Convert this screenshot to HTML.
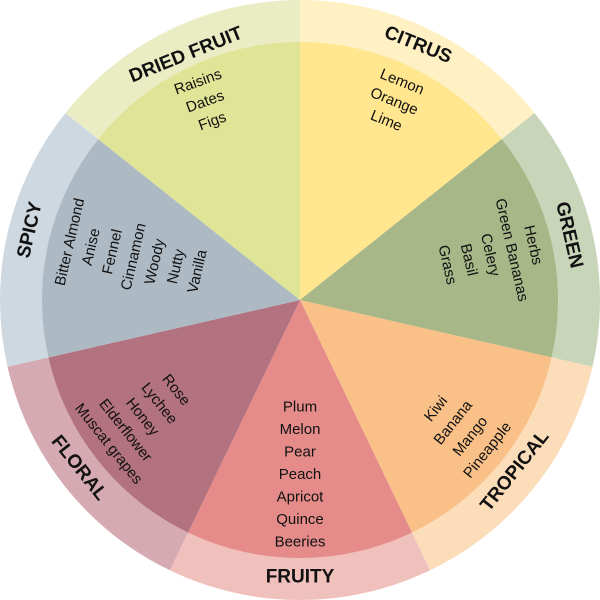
<!DOCTYPE html>
<html><head><meta charset="utf-8"><style>
html,body{margin:0;padding:0;background:#fff;width:600px;height:600px;overflow:hidden;}
svg{display:block;overflow:hidden;position:absolute;left:0;top:0;}
text{font-family:"Liberation Sans",sans-serif;fill:#111;}
.i{font-size:15px;text-anchor:middle;dominant-baseline:central;}
.t{font-size:19px;font-weight:bold;text-anchor:middle;dominant-baseline:central;}
</style></head><body>
<svg width="600" height="600" viewBox="0 0 600 600" xmlns="http://www.w3.org/2000/svg">
<defs>
<path id="o" d="M300,300 L300,0 A300,300 0 0 1 534.55,112.95 Z"/>
<path id="n" d="M300,300 L300,42 A258,258 0 0 1 501.7,139.1 Z"/>
</defs>
<g>
<use href="#o" fill="#FFF1C4"/><use href="#n" fill="#FFE68F"/>
<g transform="rotate(51.43 300 300)"><use href="#o" fill="#C8D5B8"/><use href="#n" fill="#A7B788"/></g>
<g transform="rotate(102.86 300 300)"><use href="#o" fill="#FCDDBA"/><use href="#n" fill="#F9C087"/></g>
<g transform="rotate(154.29 300 300)"><use href="#o" fill="#F0C0BD"/><use href="#n" fill="#E58C8B"/></g>
<g transform="rotate(205.71 300 300)"><use href="#o" fill="#D5AAB3"/><use href="#n" fill="#B2727F"/></g>
<g transform="rotate(257.14 300 300)"><use href="#o" fill="#CED8E0"/><use href="#n" fill="#ADBAC4"/></g>
<g transform="rotate(308.57 300 300)"><use href="#o" fill="#EAEDC4"/><use href="#n" fill="#E0E496"/></g>
</g>

<text class="t" transform="translate(418,45) rotate(22)">CITRUS</text>
<text class="t" transform="translate(186,55) rotate(-22)">DRIED FRUIT</text>
<text class="t" transform="translate(569,235) rotate(77)">GREEN</text>
<text class="t" transform="translate(515,471) rotate(-51.4)">TROPICAL</text>
<text class="t" transform="translate(300,577)">FRUITY</text>
<text class="t" transform="translate(79,468) rotate(51.4)">FLORAL</text>
<text class="t" transform="translate(30,230) rotate(-77)">SPICY</text>

<g transform="translate(402,82) rotate(22)">
<text class="i" y="0">Lemon</text><text class="i" y="21">Orange</text><text class="i" y="42">Lime</text></g>
<g transform="translate(198,82) rotate(-20)">
<text class="i" y="0">Raisins</text><text class="i" y="21">Dates</text><text class="i" y="42">Figs</text></g>
<g transform="translate(533,245) rotate(77)">
<text class="i" y="0">Herbs</text><text class="i" y="22">Green Bananas</text><text class="i" y="44">Celery</text><text class="i" y="66">Basil</text><text class="i" y="88">Grass</text></g>
<g transform="translate(436,409) rotate(-51.4)">
<text class="i" y="0">Kiwi</text><text class="i" y="22">Banana</text><text class="i" y="44">Mango</text><text class="i" y="66">Pineapple</text></g>
<g transform="translate(300,407)">
<text class="i" y="0">Plum</text><text class="i" y="22.5">Melon</text><text class="i" y="45">Pear</text><text class="i" y="67.5">Peach</text><text class="i" y="90">Apricot</text><text class="i" y="112.5">Quince</text><text class="i" y="135">Beeries</text></g>
<g transform="translate(176,390) rotate(51.4)">
<text class="i" y="0">Rose</text><text class="i" y="21.6">Lychee</text><text class="i" y="43.2">Honey</text><text class="i" y="64.8">Elderflower</text><text class="i" y="86.4">Muscat grapes</text></g>
<g transform="translate(70,242) rotate(-77)">
<text class="i" y="0">Bitter Almond</text><text class="i" y="21.8">Anise</text><text class="i" y="43.6">Fennel</text><text class="i" y="65.4">Cinnamon</text><text class="i" y="87.2">Woody</text><text class="i" y="109">Nutty</text><text class="i" y="130.8">Vanilla</text></g>
</svg>
</body></html>
